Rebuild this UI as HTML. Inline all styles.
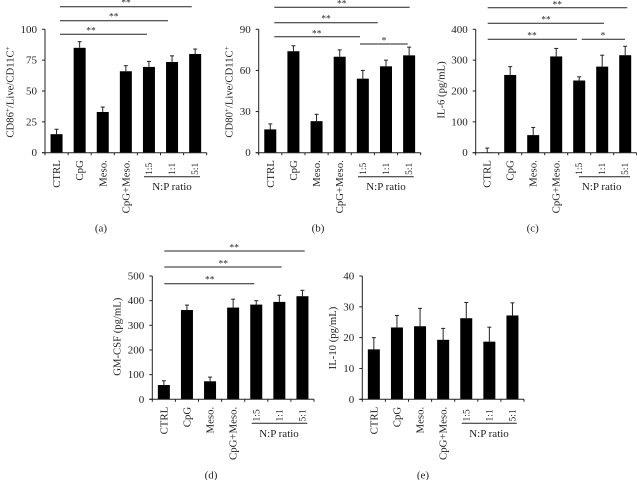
<!DOCTYPE html>
<html lang="en">
<head>
<meta charset="utf-8">
<title>Cytokine and marker bar charts</title>
<style>
html,body{margin:0;padding:0;background:#fff;width:637px;height:480px;overflow:hidden}
svg{display:block;filter:blur(0.35px)}
text{font-family:"Liberation Serif",serif;fill:#1f1f1f}
</style>
</head>
<body>
<svg id="figure" width="637" height="480" viewBox="0 0 637 480" xmlns="http://www.w3.org/2000/svg"></svg>
<script>
const categories = ['CTRL', 'CpG', 'Meso.', 'CpG+Meso.', '1:5', '1:1', '5:1'];

const cd86Values = [15, 85, 33, 66, 69.5, 73.5, 80];
const cd86ErrorTops = [19, 90, 37, 70.5, 74, 78.5, 84];
const cd86Ticks = [0, 25, 50, 75, 100];

const cd80Values = [17, 74, 23, 70, 54, 63, 71];
const cd80ErrorTops = [21, 78, 28, 75, 60, 67.5, 77];
const cd80Ticks = [0, 30, 60, 90];

const il6Values = [1, 252, 57, 312, 234, 279, 316];
const il6ErrorTops = [15, 279, 82, 338, 246, 316, 345];
const il6Ticks = [0, 100, 200, 300, 400];

const gmcsfValues = [58, 362, 73, 372, 384, 395, 418];
const gmcsfErrorTops = [75, 382, 90, 406, 400, 422, 442];
const gmcsfTicks = [0, 100, 200, 300, 400, 500];

const il10Values = [16.2, 23.3, 23.7, 19.3, 26.3, 18.7, 27.2];
const il10ErrorTops = [20, 27.2, 29.5, 23, 31.4, 23.4, 31.3];
const il10Ticks = [0, 10, 20, 30, 40];

const panels = [
  { id: 'a', values: cd86Values, tops: cd86ErrorTops, ticks: cd86Ticks,
    x0: 45, x1: 206.7, yTop: 29.3, yBase: 152.7, labelX: 10, labelY: 92,
    yLabel: [['CD86'], ['+', 1], ['/Live/CD11C'], ['+', 1]],
    ratioLine: [144, 200], ratioX: 172, captionX: 101,
    brackets: [[60, 191.7, 6.7, '**', 126, 1], [60, 168, 20.7, '**', 113.7, 15], [60, 147, 34.3, '**', 91, 29]] },
  { id: 'b', values: cd80Values, tops: cd80ErrorTops, ticks: cd80Ticks,
    x0: 258.7, x1: 420.7, yTop: 29.3, yBase: 152.7, labelX: 229, labelY: 92,
    yLabel: [['CD80'], ['+', 1], ['/Live/CD11C'], ['+', 1]],
    ratioLine: [358, 413.7], ratioX: 386, captionX: 318,
    brackets: [[274.3, 409.7, 7.3, '**', 341.7, 2], [274.3, 377.7, 22.7, '**', 326, 17], [274.3, 360, 36.7, '**', 316.7, 32], [360, 407.7, 44, '*', 384, 39]] },
  { id: 'c', values: il6Values, tops: il6ErrorTops, ticks: il6Ticks,
    x0: 475.7, x1: 636.7, yTop: 29.3, yBase: 152.7, labelX: 441, labelY: 90,
    yLabel: [['IL-6 (pg/mL)']],
    ratioLine: [579, 630], ratioX: 601.7, captionX: 532.7,
    brackets: [[487.7, 627.3, 7.7, '**', 557.3, 3], [487.7, 604, 23.3, '**', 546, 18], [487.7, 577, 39.3, '**', 532, 34], [581.7, 625, 39.3, '*', 603, 34]] },
  { id: 'd', values: gmcsfValues, tops: gmcsfErrorTops, ticks: gmcsfTicks,
    x0: 152.3, x1: 314, yTop: 276, yBase: 399.3, labelX: 117, labelY: 336.7,
    yLabel: [['GM-CSF (pg/mL)']],
    ratioLine: [251.7, 307.3], ratioX: 279, captionX: 211,
    brackets: [[164.3, 304.7, 251, '**', 234.3, 246], [164.3, 281.7, 267, '**', 223.3, 262], [164.3, 254.3, 283.7, '**', 209.7, 278]] },
  { id: 'e', values: il10Values, tops: il10ErrorTops, ticks: il10Ticks,
    x0: 362.3, x1: 524, yTop: 276, yBase: 399.3, labelX: 332.7, labelY: 338,
    yLabel: [['IL-10 (pg/mL)']],
    ratioLine: [461.7, 516.7], ratioX: 489, captionX: 423,
    brackets: [] }
];

const SVG_NS = 'http://www.w3.org/2000/svg';
const figure = document.getElementById('figure');

function make(parent, tag, attrs, content) {
  const node = document.createElementNS(SVG_NS, tag);
  for (const key in attrs) node.setAttribute(key, attrs[key]);
  if (content !== undefined) node.textContent = content;
  parent.appendChild(node);
  return node;
}

function lineAttrs(x1, y1, x2, y2, color) {
  return { x1: x1, y1: y1, x2: x2, y2: y2, stroke: color || '#222', 'stroke-width': 1 };
}

panels.forEach(function (p) {
  const g = make(figure, 'g', {});
  
  

  const maxTick = p.ticks[p.ticks.length - 1];
  const yScale = function (v) { return p.yBase - (v / maxTick) * (p.yBase - p.yTop); };
  const band = (p.x1 - p.x0) / categories.length;
  const xCenter = function (i) { return p.x0 + band * (i + 0.5); };
  const barWidth = 12;

  p.values.forEach(function (value, i) {
    const cx = xCenter(i);
    const stem = make(g, 'line', lineAttrs(cx, yScale(value), cx, yScale(p.tops[i]), '#222'));
    
    
    const cap = make(g, 'line', lineAttrs(cx - 2, yScale(p.tops[i]), cx + 2, yScale(p.tops[i]), '#222'));
    
    
    const bar = make(g, 'rect', { x: cx - barWidth / 2, y: yScale(value), width: barWidth, height: p.yBase - yScale(value), fill: '#000' });
    
    
  });

  const yAxis = make(g, 'line', lineAttrs(p.x0, p.yTop, p.x0, p.yBase));
  
  
  const xAxis = make(g, 'line', lineAttrs(p.x0 - 3, p.yBase, p.x1, p.yBase));
  
  

  p.ticks.forEach(function (tick) {
    const y = yScale(tick);
    const mark = make(g, 'line', lineAttrs(p.x0 - 3, y, p.x0, y));
    
    
    const label = make(g, 'text', { x: p.x0 - 8, y: y + 3.5, 'text-anchor': 'end', 'font-size': 11 }, String(tick));
    
    
  });

  for (let i = 0; i <= categories.length; i++) {
    const x = p.x0 + band * i;
    const mark = make(g, 'line', lineAttrs(x, p.yBase, x, p.yBase + 2.5));
    
    
  }

  categories.forEach(function (name, i) {
    const small = i >= 4;
    const bx = xCenter(i) + (small ? 3 : 3.5);
    const by = p.yBase + (small ? 10 : 7.5);
    const label = make(g, 'text', { transform: 'translate(' + bx + ',' + by + ') rotate(-90)', 'text-anchor': 'end', 'font-size': small ? 9.5 : 10.8 }, name);
    
    
  });

  const yTitle = make(g, 'text', { transform: 'translate(' + (p.labelX + 3.5) + ',' + p.labelY + ') rotate(-90)', 'text-anchor': 'middle', 'font-size': 10.7 });
  
  
  p.yLabel.forEach(function (part) {
    const attrs = part[1] ? { 'font-size': 7, dy: -3.5 } : { 'font-size': 10.7, dy: yTitle.childNodes.length ? 3.5 : 0 };
    make(yTitle, 'tspan', attrs, part[0]);
  });

  const ratioY = p.yBase + 24;
  const ratioLine = make(g, 'line', lineAttrs(p.ratioLine[0], ratioY, p.ratioLine[1], ratioY));
  
  
  const ratioLabel = make(g, 'text', { x: p.ratioX, y: ratioY + 13.5, 'text-anchor': 'middle', 'font-size': 11 }, 'N:P ratio');
  
  

  const caption = make(g, 'text', { x: p.captionX, y: p.yBase + 79, 'text-anchor': 'middle', 'font-size': 11 }, '(' + p.id + ')');
  
  

  p.brackets.forEach(function (b) {
    const line = make(g, 'line', lineAttrs(b[0], b[2], b[1], b[2]));
    
    
    const stars = make(g, 'text', { x: b[4], y: b[5] + 4.5, 'text-anchor': 'middle', 'font-size': 9.5 }, b[3]);
    
    
  });
});
</script>
</body>
</html>
